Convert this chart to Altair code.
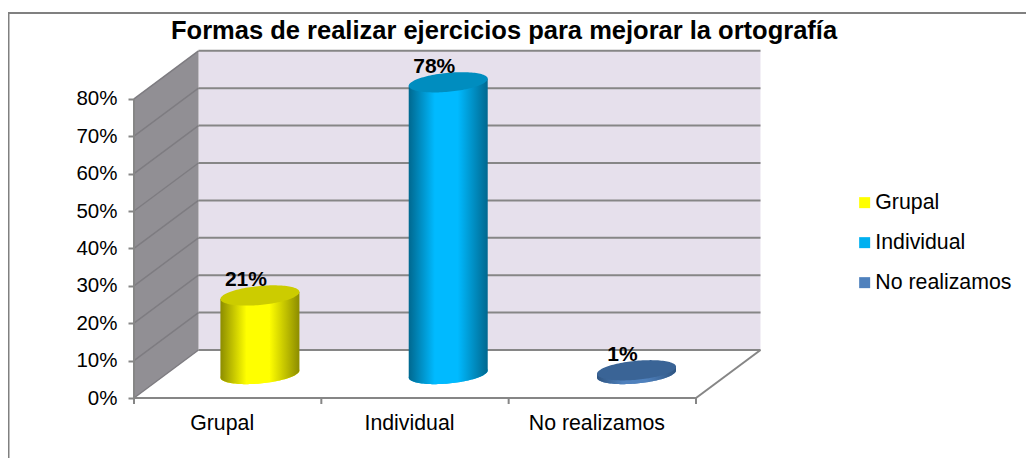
import json
import numpy as np
import pandas as pd
import altair as alt

TITLE = "Formas de realizar ejercicios para mejorar la ortografía"
categories = ["Grupal", "Individual", "No realizamos"]
values = [21, 78, 1]
legend_colors = ["#FFFF00", "#00B0F0", "#4F81BD"]
top_colors = ["#CCCC00", "#008DBF", "#3A6496"]
edge_colors = ["#8C8C00", "#00688F", "#2F5480"]
mid_colors = ["#FFFF00", "#00BAFF", "#4F81BD"]
y_ticks = [0, 10, 20, 30, 40, 50, 60, 70, 80]
x_ticks = [0, 1, 2, 3]

PX_X = 187.33   # pixels per category
PX_Y = 3.74     # pixels per percentage point
DEPTH_X = 64.5 / PX_X
DEPTH_Y = 48 / PX_Y
BAR_STEP = 188.3 / PX_X   # the cylinders stand slightly wider apart than the ticks
FONT = "Liberation Sans"
GREY = "#868686"
W, H = 627, 348
PAD = {"left": 126, "top": 42, "right": 265, "bottom": 60}
x_max = W / PX_X
y_max = H / PX_Y

xs = alt.Scale(domain=[0, x_max], nice=False, zero=False)
ys = alt.Scale(domain=[0, y_max], nice=False, zero=False)
label_expr = json.dumps(categories) + "[floor(datum.value)]"
x_axis = alt.Axis(
    values=[0.5, 1.5, 2.5], labelExpr=label_expr, domain=False, ticks=False, grid=False, title=None,
    labelFont=FONT, labelFontSize=21.3, labelColor="#000000", labelPadding=14,
    labelOffset=-6, labelOverlap=False, labelFlush=False, labelBound=False)
y_axis = alt.Axis(
    values=y_ticks, labelExpr="datum.value + '%'", domain=False, grid=False, title=None,
    tickColor=GREY, tickSize=6, tickWidth=2, labelPadding=11,
    labelFont=FONT, labelFontSize=20.5, labelColor="#000000", labelOverlap=False)
X = alt.X("x:Q", scale=xs, axis=x_axis)
Y = alt.Y("y:Q", scale=ys, axis=y_axis)
Y2 = alt.Y2("y2:Q")

back = pd.DataFrame({"x": [DEPTH_X, 3 + DEPTH_X], "y": [DEPTH_Y, DEPTH_Y], "y2": [80 + DEPTH_Y, 80 + DEPTH_Y]})
back_wall = alt.Chart(back).mark_area(color="#E6E0EC").encode(x=X, y=Y, y2=Y2)

side = pd.DataFrame({"x": [0, DEPTH_X], "y": [0, DEPTH_Y], "y2": [80, 80 + DEPTH_Y]})
side_wall = alt.Chart(side).mark_area(color="#918F94").encode(x=X, y=Y, y2=Y2)

# grid lines: back wall and the slanted part on the side wall
rows = []
for t in y_ticks:
    rows += [
        {"g": f"b{t}", "x": DEPTH_X, "y": t + DEPTH_Y},
        {"g": f"b{t}", "x": 3 + DEPTH_X, "y": t + DEPTH_Y},
    ]
grid = alt.Chart(pd.DataFrame(rows)).mark_line(color=GREY, strokeWidth=2).encode(x=X, y=Y, detail="g:N")
rows = []
for t in y_ticks:
    rows += [{"g": f"s{t}", "x": 0, "y": t}, {"g": f"s{t}", "x": DEPTH_X, "y": t + DEPTH_Y}]
side_grid = alt.Chart(pd.DataFrame(rows)).mark_line(color="#7E7C81", strokeWidth=1.5).encode(x=X, y=Y, detail="g:N")

# floor edges and axis lines
edge_rows = [
    {"g": "front", "x": 0, "y": 0}, {"g": "front", "x": 3, "y": 0},
    {"g": "right", "x": 3, "y": 0}, {"g": "right", "x": 3 + DEPTH_X, "y": DEPTH_Y},
    {"g": "left", "x": 0, "y": 0}, {"g": "left", "x": 0, "y": 80},
]
edges = alt.Chart(pd.DataFrame(edge_rows)).mark_line(color=GREY, strokeWidth=2).encode(x=X, y=Y, detail="g:N")
tick_rows = pd.DataFrame({"x": x_ticks})
x_tick_marks = alt.Chart(tick_rows).mark_rule(color=GREY, strokeWidth=2).encode(
    x=X, y=alt.value(H), y2=alt.value(H + 6))


def ellipse(cx, cy):
    a = 39.5 / PX_X
    b = 9.5 / PX_Y
    k = 0.09 * PX_X / PX_Y
    u = a * np.cos(np.linspace(np.pi, 0, 61))
    r = np.sqrt(np.clip(1 - (u / a) ** 2, 0, 1))
    return cx + u, cy + k * u, b * r


def centre(i):
    return 0.5 + i * BAR_STEP + DEPTH_X / 2


layers = [back_wall, side_wall, grid, side_grid, edges, x_tick_marks]

base_frames = []
for i, (c, v) in enumerate(zip(categories, values)):
    cy0 = DEPTH_Y / 2
    xe, ym, br = ellipse(centre(i), cy0)
    base_frames.append(pd.DataFrame({"cat": c, "x": xe, "y": ym - br, "y2": ym + br}))
bases = alt.Chart(pd.concat(base_frames)).mark_area().encode(
    x=X, y=Y, y2=Y2,
    color=alt.Color("cat:N", scale=alt.Scale(domain=categories, range=legend_colors), legend=alt.Legend(
        title=None, orient="none", legendX=716, legendY=142, symbolType="square", symbolSize=121,
        symbolStrokeWidth=0, symbolOpacity=1, labelFont=FONT, labelFontSize=21.3, labelColor="#000000",
        rowPadding=18, labelOffset=0, columnPadding=0, symbolOffset=4)))
layers.append(bases)

for i, (c, v) in enumerate(zip(categories, values)):
    cy0 = DEPTH_Y / 2
    xe, ym, br = ellipse(centre(i), cy0)
    xt, yt, bt = ellipse(centre(i), cy0 + v)
    grad = alt.Gradient(gradient="linear", x1=0, x2=1, y1=0, y2=0, stops=[
        alt.GradientStop(color=edge_colors[i], offset=0),
        alt.GradientStop(color=mid_colors[i], offset=0.33),
        alt.GradientStop(color=mid_colors[i], offset=0.62),
        alt.GradientStop(color=edge_colors[i], offset=1),
    ])
    body = pd.DataFrame({"x": xe, "y": ym - br, "y2": yt})
    layers.append(alt.Chart(body).mark_area(color=grad).encode(x=X, y=Y, y2=Y2))
    top = pd.DataFrame({"x": xt, "y": yt - bt, "y2": yt + bt})
    layers.append(alt.Chart(top).mark_area(color=top_colors[i]).encode(x=X, y=Y, y2=Y2))

labels = pd.DataFrame({
    "x": [centre(i) for i in range(3)],
    "y": [DEPTH_Y / 2 + v for v in values],
    "t": [f"{v}%" for v in values],
})
layers.append(alt.Chart(labels).mark_text(
    font=FONT, fontSize=21, fontWeight="bold", color="#000000", dx=-14, dy=-5, baseline="bottom"
).encode(x=X, y=Y, text="t:N"))

# outer frame of the chart: only its left and top sides are in the picture
frame_l = alt.Chart(pd.DataFrame({"k": [0]})).mark_rule(color="#808080", strokeWidth=2).encode(
    x=alt.value(-125.5), y=alt.value(-37), y2=alt.value(H + PAD["bottom"]))
frame_t = alt.Chart(pd.DataFrame({"k": [0]})).mark_rule(color="#808080", strokeWidth=2).encode(
    x=alt.value(-126), x2=alt.value(W + PAD["right"]), y=alt.value(-37))
layers += [frame_l, frame_t]

chart = alt.layer(*layers).properties(
    width=W, height=H,
    padding=PAD,
    autosize=alt.AutoSizeParams(type="none"),
    background="white",
    title=alt.TitleParams(TITLE, font=FONT, fontSize=25.5, fontWeight="bold", color="#000000",
                          anchor="start", frame="group", dx=37, offset=-32),
).configure_view(stroke=None)

chart.save("out.html", embed_options={"renderer": "svg", "actions": False})
